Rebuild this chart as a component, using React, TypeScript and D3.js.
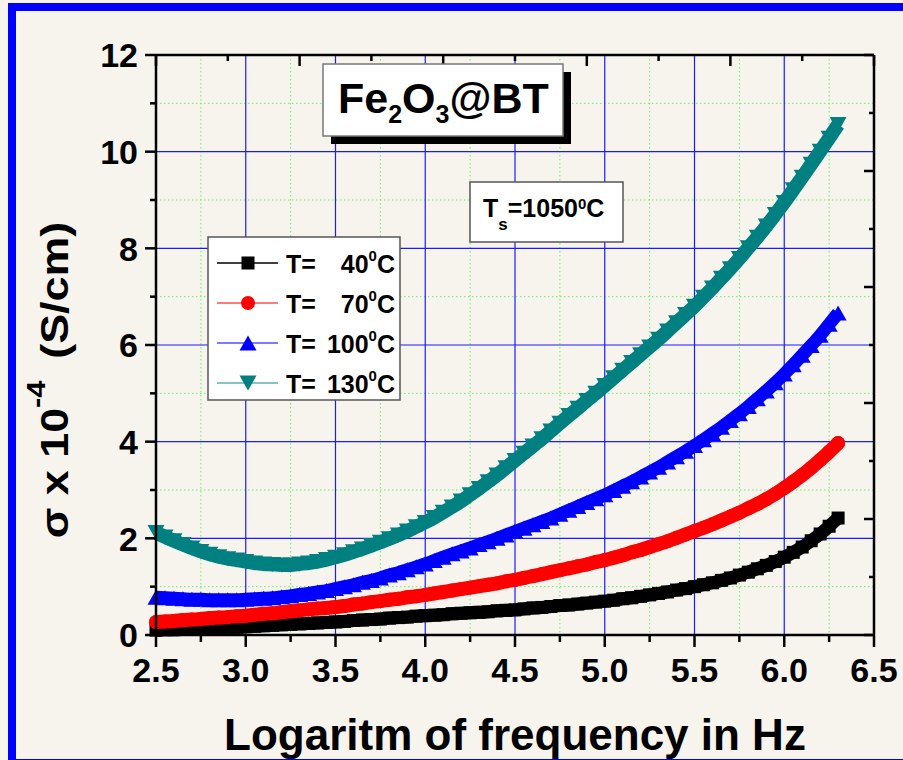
import React from 'react';
import * as d3 from 'd3';

const logFreq = [
  2.50, 2.55, 2.60, 2.65, 2.70, 2.75, 2.80, 2.85, 2.90, 2.95,
  3.00, 3.05, 3.10, 3.15, 3.20, 3.25, 3.30, 3.35, 3.40, 3.45,
  3.50, 3.55, 3.60, 3.65, 3.70, 3.75, 3.80, 3.85, 3.90, 3.95,
  4.00, 4.05, 4.10, 4.15, 4.20, 4.25, 4.30, 4.35, 4.40, 4.45,
  4.50, 4.55, 4.60, 4.65, 4.70, 4.75, 4.80, 4.85, 4.90, 4.95,
  5.00, 5.05, 5.10, 5.15, 5.20, 5.25, 5.30, 5.35, 5.40, 5.45,
  5.50, 5.55, 5.60, 5.65, 5.70, 5.75, 5.80, 5.85, 5.90, 5.95,
  6.00, 6.05, 6.10, 6.15, 6.20, 6.25, 6.30,
];

const sigma40 = [
  0.10, 0.11, 0.11, 0.12, 0.13, 0.13, 0.14, 0.15, 0.16, 0.16,
  0.17, 0.18, 0.19, 0.20, 0.21, 0.22, 0.23, 0.24, 0.25, 0.26,
  0.27, 0.28, 0.30, 0.31, 0.32, 0.33, 0.35, 0.36, 0.37, 0.39,
  0.40, 0.41, 0.42, 0.44, 0.45, 0.46, 0.47, 0.48, 0.50, 0.51,
  0.52, 0.54, 0.56, 0.57, 0.59, 0.61, 0.62, 0.64, 0.66, 0.68,
  0.70, 0.72, 0.75, 0.77, 0.80, 0.83, 0.86, 0.89, 0.93, 0.96,
  1.00, 1.04, 1.08, 1.13, 1.18, 1.24, 1.30, 1.37, 1.44, 1.52,
  1.61, 1.71, 1.82, 1.95, 2.09, 2.25, 2.42,
];

const sigma70 = [
  0.27, 0.28, 0.29, 0.31, 0.32, 0.33, 0.35, 0.36, 0.37, 0.39,
  0.40, 0.42, 0.44, 0.45, 0.47, 0.49, 0.51, 0.53, 0.55, 0.56,
  0.58, 0.60, 0.63, 0.65, 0.68, 0.70, 0.73, 0.75, 0.78, 0.80,
  0.83, 0.86, 0.89, 0.92, 0.95, 0.98, 1.01, 1.04, 1.07, 1.11,
  1.14, 1.18, 1.22, 1.26, 1.30, 1.34, 1.38, 1.42, 1.46, 1.51,
  1.55, 1.60, 1.65, 1.71, 1.76, 1.82, 1.88, 1.94, 2.01, 2.08,
  2.15, 2.22, 2.29, 2.37, 2.45, 2.53, 2.62, 2.71, 2.81, 2.92,
  3.04, 3.17, 3.31, 3.46, 3.62, 3.79, 3.97,
];

const sigma100 = [
  0.78, 0.77, 0.76, 0.75, 0.74, 0.74, 0.73, 0.73, 0.73, 0.73,
  0.74, 0.75, 0.76, 0.77, 0.79, 0.81, 0.84, 0.86, 0.89, 0.92,
  0.96, 1.00, 1.04, 1.09, 1.13, 1.18, 1.24, 1.29, 1.35, 1.41,
  1.47, 1.54, 1.61, 1.68, 1.74, 1.80, 1.87, 1.93, 2.00, 2.07,
  2.14, 2.21, 2.28, 2.35, 2.42, 2.50, 2.58, 2.66, 2.74, 2.82,
  2.90, 2.99, 3.08, 3.17, 3.27, 3.37, 3.47, 3.58, 3.69, 3.80,
  3.92, 4.04, 4.17, 4.30, 4.44, 4.58, 4.73, 4.89, 5.05, 5.22,
  5.40, 5.59, 5.79, 5.99, 6.20, 6.43, 6.66,
];

const sigma130 = [
  2.12, 2.03, 1.95, 1.87, 1.80, 1.73, 1.67, 1.62, 1.58, 1.55,
  1.52, 1.49, 1.47, 1.46, 1.45, 1.45, 1.47, 1.49, 1.52, 1.56,
  1.61, 1.66, 1.72, 1.78, 1.85, 1.92, 1.99, 2.07, 2.15, 2.24,
  2.33, 2.43, 2.54, 2.65, 2.77, 2.90, 3.03, 3.17, 3.31, 3.46,
  3.61, 3.76, 3.91, 4.06, 4.22, 4.38, 4.54, 4.69, 4.85, 5.00,
  5.16, 5.32, 5.48, 5.64, 5.80, 5.96, 6.12, 6.29, 6.46, 6.63,
  6.80, 6.99, 7.18, 7.38, 7.58, 7.79, 8.01, 8.23, 8.46, 8.70,
  8.95, 9.21, 9.47, 9.74, 10.01, 10.28, 10.56,
];

const xTicks = [2.5, 3.0, 3.5, 4.0, 4.5, 5.0, 5.5, 6.0, 6.5];
const xMinorTicks = [2.75, 3.25, 3.75, 4.25, 4.75, 5.25, 5.75, 6.25];
const yTicks = [0, 2, 4, 6, 8, 10, 12];
const yMinorTicks = [1, 3, 5, 7, 9, 11];
const legendTemps = ['40', '70', '100', '130'];
const seriesColors = ['#000000', '#ff0000', '#0000ff', '#008080'];
const legendLineColors = ['#000000', '#ff5050', '#5050ff', '#60b0b0'];
const seriesShapes = ['square', 'circle', 'triUp', 'triDown'];
const bandWidths = [13, 14, 13, 14];

const FONT = '"Liberation Sans", Arial, Helvetica, sans-serif';
const BG = '#f7f4ee';

function Marker({ shape, cx, cy, color }: { shape: string; cx: number; cy: number; color: string }) {
  if (shape === 'square') {
    return <rect x={cx - 6.5} y={cy - 6.5} width={13} height={13} fill={color} />;
  }
  if (shape === 'circle') {
    return <circle cx={cx} cy={cy} r={7} fill={color} />;
  }
  if (shape === 'triUp') {
    return <path d={`M${cx},${cy - 7.5}L${cx + 8.5},${cy + 7.5}L${cx - 8.5},${cy + 7.5}Z`} fill={color} />;
  }
  return <path d={`M${cx - 8.5},${cy - 7.5}L${cx + 8.5},${cy - 7.5}L${cx},${cy + 7.5}Z`} fill={color} />;
}

export default function App() {
  const W = 903;
  const H = 760;
  const x = d3.scaleLinear().domain([2.5, 6.5]).range([156, 874]);
  const y = d3.scaleLinear().domain([0, 12]).range([635, 55]);
  const [x0, x1] = x.range();
  const [y0, y1] = y.range();

  const series = [sigma40, sigma70, sigma100, sigma130];
  const line = d3
    .line<number>()
    .x((_, i) => x(logFreq[i]))
    .y((d) => y(d))
    .curve(d3.curveMonotoneX);

  const topTicks = d3.range(11).map((k) => x0 + ((x1 - x0) * k) / 10);
  const rightTicks = d3.range(11).map((k) => y0 - ((y0 - y1) * k) / 10);

  const legendRowY = [263, 303, 343, 383];

  return (
    <svg
      width={W}
      height={H}
      style={{ position: 'absolute', left: 0, top: 0, display: 'block', background: BG }}
      fontFamily={FONT}
    >
      <rect x={0} y={0} width={W} height={H} fill={BG} />
      <rect x={12} y={7} width={1000} height={756} fill="none" stroke="#0000ff" strokeWidth={8} />

      {xMinorTicks.map((t) => (
        <line key={'gxm' + t} x1={x(t)} x2={x(t)} y1={y1} y2={y0} stroke="#66ee66" strokeWidth={1} strokeDasharray="1.5,2.5" />
      ))}
      {yMinorTicks.map((t) => (
        <line key={'gym' + t} x1={x0} x2={x1} y1={y(t)} y2={y(t)} stroke="#66ee66" strokeWidth={1} strokeDasharray="1.5,2.5" />
      ))}
      {xTicks.slice(1, -1).map((t) => (
        <line key={'gx' + t} x1={x(t)} x2={x(t)} y1={y1} y2={y0} stroke="#1a1aff" strokeWidth={1.2} />
      ))}
      {yTicks.slice(1, -1).map((t) => (
        <line key={'gy' + t} x1={x0} x2={x1} y1={y(t)} y2={y(t)} stroke="#1a1aff" strokeWidth={1.2} />
      ))}

      {series.map((s, si) => (
        <g key={'s' + si}>
          <path
            d={line(s) || ''}
            fill="none"
            stroke={seriesColors[si]}
            strokeWidth={bandWidths[si]}
            strokeLinecap={si === 1 ? 'round' : 'butt'}
            strokeLinejoin="round"
          />
          {s.map((v, i) => (
            <Marker key={i} shape={seriesShapes[si]} cx={x(logFreq[i])} cy={y(v)} color={seriesColors[si]} />
          ))}
        </g>
      ))}

      <line x1={x0} x2={x0} y1={y1} y2={y0} stroke="#000" strokeWidth={2.5} />
      <line x1={x0} x2={x1} y1={y0} y2={y0} stroke="#000" strokeWidth={2.5} />
      <line x1={x0} x2={x1} y1={y1} y2={y1} stroke="#000" strokeWidth={2.5} />
      <line x1={x1} x2={x1} y1={y1} y2={y0} stroke="#000" strokeWidth={2.5} />

      {yTicks.map((t) => (
        <line key={'ly' + t} x1={x0 - 11} x2={x0} y1={y(t)} y2={y(t)} stroke="#000" strokeWidth={2.5} />
      ))}
      {yMinorTicks.map((t) => (
        <line key={'lym' + t} x1={x0 - 6} x2={x0} y1={y(t)} y2={y(t)} stroke="#000" strokeWidth={2.5} />
      ))}
      {xTicks.map((t) => (
        <line key={'bx' + t} x1={x(t)} x2={x(t)} y1={y0} y2={y0 + 12} stroke="#000" strokeWidth={2.5} />
      ))}
      {xMinorTicks.map((t) => (
        <line key={'bxm' + t} x1={x(t)} x2={x(t)} y1={y0} y2={y0 + 7} stroke="#000" strokeWidth={2.5} />
      ))}
      {topTicks.map((px, k) => (
        <line key={'tt' + k} x1={px} x2={px} y1={y1} y2={y1 + (k % 2 === 0 ? 11 : 6)} stroke="#000" strokeWidth={2.5} />
      ))}
      {rightTicks.map((py, k) => (
        <line key={'rt' + k} x1={x1 - (k % 2 === 0 ? 10 : 5)} x2={x1} y1={py} y2={py} stroke="#000" strokeWidth={2.5} />
      ))}

      {yTicks.map((t) => (
        <text key={'yl' + t} x={138} y={y(t)} dy="0.36em" textAnchor="end" fontSize={34} fontWeight="bold" fill="#000">
          {t}
        </text>
      ))}
      {xTicks.map((t) => (
        <text key={'xl' + t} x={x(t)} y={682} textAnchor="middle" fontSize={34} fontWeight="bold" fill="#000">
          {t.toFixed(1)}
        </text>
      ))}

      <text x={515} y={750} textAnchor="middle" fontSize={44} fontWeight="bold" fill="#000">
        Logaritm of frequency in Hz
      </text>
      <g transform="translate(68,380) rotate(-90) scale(1.18,1)">
        <text x={0} y={0} textAnchor="middle" fontSize={38} fontWeight="bold" fill="#000">
          σ x 10
          <tspan fontSize={26} dy={-23}>-4</tspan>
          <tspan dy={23} dx={8}> (S/cm)</tspan>
        </text>
      </g>

      <rect x={331} y={72} width={240} height={72} fill="#000" />
      <rect x={323} y={64} width={240} height={72} fill="#fff" stroke="#777" strokeWidth={1.5} />
      <text x={338} y={113} fontSize={43} fontWeight="bold" fill="#000">
        Fe
        <tspan fontSize={25} dy={10}>2</tspan>
        <tspan dy={-10}>O</tspan>
        <tspan fontSize={25} dy={10}>3</tspan>
        <tspan dy={-10}>@BT</tspan>
      </text>

      <rect x={470} y={182} width={153} height={60} fill="#fff" stroke="#555" strokeWidth={1.5} />
      <text x={483} y={217} fontSize={25} fontWeight="bold" fill="#000">
        T
        <tspan fontSize={17} dy={13}>s</tspan>
        <tspan dy={-13}>=1050</tspan>
        <tspan fontSize={15} dy={-8}>0</tspan>
        <tspan dy={8}>C</tspan>
      </text>

      <rect x={208} y={237} width={192} height={163} fill="#fff" stroke="#555" strokeWidth={1.5} />
      {legendTemps.map((tmp, i) => {
        const cy = legendRowY[i];
        return (
          <g key={'lg' + i}>
            <line x1={217} x2={278} y1={cy} y2={cy} stroke={legendLineColors[i]} strokeWidth={1.5} />
            <Marker shape={seriesShapes[i]} cx={248} cy={cy} color={seriesColors[i]} />
            <text x={286} y={cy + 10} fontSize={25} fontWeight="bold" fill="#000">
              T=
            </text>
            <text x={395} y={cy + 10} textAnchor="end" fontSize={25} fontWeight="bold" fill="#000">
              {tmp}
              <tspan fontSize={15} dy={-12}>0</tspan>
              <tspan dy={12}>C</tspan>
            </text>
          </g>
        );
      })}
    </svg>
  );
}
